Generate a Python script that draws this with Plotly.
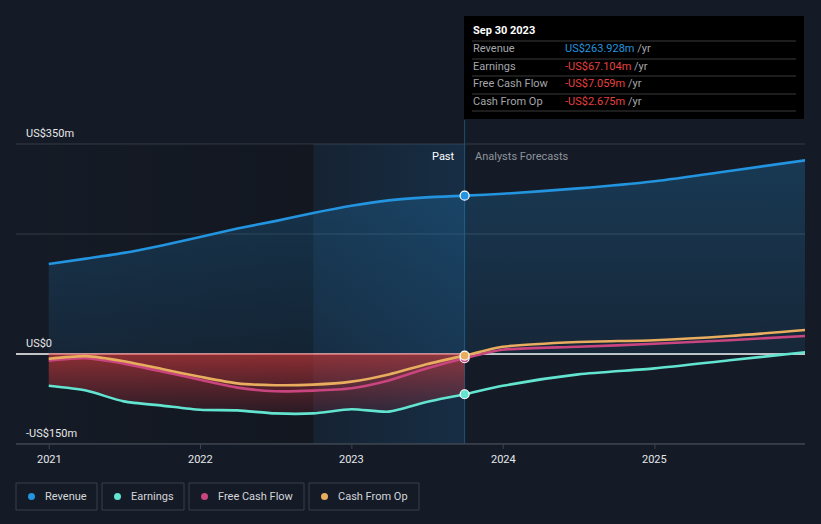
import plotly.graph_objects as go

# ---------------- data (US$ m) ----------------
past_dates = ["2020-12-31", "2021-03-31", "2021-06-30", "2021-09-30", "2021-12-31",
              "2022-03-31", "2022-06-30", "2022-09-30", "2022-12-31", "2023-03-31",
              "2023-06-30", "2023-09-30"]
fc_dates = ["2023-09-30", "2023-12-31", "2024-06-30", "2024-12-31", "2025-06-30", "2025-12-31"]

revenue_past = [150, 159, 168.5, 181, 195, 209, 221.5, 235, 247, 256, 261, 263.928]
revenue_fc = [263.928, 267, 276, 288, 305, 323]

earnings_past = [-53, -61, -79, -86, -93, -94, -99, -99, -92, -96, -80, -67.104]
earnings_fc = [-67.104, -53, -34, -24, -10.5, 3]

fcf_past = [-11, -7, -16, -29, -43, -56, -62, -61, -57, -44, -24, -7.059]
fcf_fc = [-7.059, 7, 12, 17, 23, 30]

cfo_past = [-8, -3.5, -12, -25, -38, -49, -52, -51, -46, -34, -17, -2.675]
cfo_fc = [-2.675, 12, 20, 23, 30, 40]

y_ticks = [350, 0, -150]
y_tick_labels = ["US$350m", "US$0", "-US$150m"]
grid_values = [350, 200, -150]
x_ticks = ["2021-01-01", "2022-01-01", "2023-01-01", "2024-01-01", "2025-01-01"]
x_tick_labels = ["2021", "2022", "2023", "2024", "2025"]

tooltip_date = "Sep 30 2023"
tooltip_rows = [("Revenue", "US$263.928m", "#2394df"),
                ("Earnings", "-US$67.104m", "#e5413f"),
                ("Free Cash Flow", "-US$7.059m", "#e5413f"),
                ("Cash From Op", "-US$2.675m", "#e5413f")]

series_names = ["Revenue", "Earnings", "Free Cash Flow", "Cash From Op"]
colors = ["#2394df", "#62e4d0", "#c8457f", "#e8ad5e"]

# ---------------- layout constants ----------------
W, H = 821, 524
PL, PR, PT, PB = 16, 805, 120, 444
X_RANGE = ["2020-10-13", "2025-12-29"]
Y_RANGE = [-150, 390]
BAND_TOP = 350
BG = "#151b26"
HL_START = "2022-09-30"
NOW = "2023-09-30"
FONT = "Roboto"

def px(x):
    return (x - PL) / (PR - PL)

def py(y):
    return (PB - y) / (PB - PT)

all_dates = past_dates + fc_dates[1:]
revenue = revenue_past + revenue_fc[1:]
earnings = earnings_past + earnings_fc[1:]
fcf = fcf_past + fcf_fc[1:]
cfo = cfo_past + cfo_fc[1:]

fig = go.Figure()
SM = 0.7

# darker past backdrop (horizontal gradient)
fig.add_trace(go.Scatter(
    x=[X_RANGE[0], HL_START, HL_START, X_RANGE[0], X_RANGE[0]],
    y=[Y_RANGE[0], Y_RANGE[0], BAND_TOP, BAND_TOP, Y_RANGE[0]],
    mode="none", fill="toself",
    fillgradient=dict(type="horizontal",
                      colorscale=[[0, "rgba(0,0,0,0)"], [1, "rgba(0,0,0,0.16)"]]),
    hoverinfo="skip", showlegend=False))

# highlight last year of past
fig.add_trace(go.Scatter(
    x=[HL_START, NOW, NOW, HL_START, HL_START],
    y=[Y_RANGE[0], Y_RANGE[0], BAND_TOP, BAND_TOP, Y_RANGE[0]],
    mode="none", fill="toself",
    fillgradient=dict(type="horizontal",
                      colorscale=[[0, "rgba(30,120,190,0.08)"], [1, "rgba(30,120,190,0.20)"]]),
    hoverinfo="skip", showlegend=False))

# revenue area
fig.add_trace(go.Scatter(
    x=all_dates, y=revenue, mode="none", fill="tozeroy", line_shape="spline",
    line=dict(smoothing=SM),
    fillgradient=dict(type="vertical", start=0, stop=330,
                      colorscale=[[0, "rgba(35,148,223,0.10)"], [1, "rgba(35,148,223,0.25)"]]),
    hoverinfo="skip", showlegend=False))

# red loss area (past)
fig.add_trace(go.Scatter(
    x=past_dates, y=[0] * len(past_dates), mode="lines",
    line=dict(color="#e06a6a", width=1.2), hoverinfo="skip", showlegend=False))
fig.add_trace(go.Scatter(
    x=past_dates, y=earnings_past, mode="none", fill="tonexty", line_shape="spline",
    line=dict(smoothing=SM),
    fillgradient=dict(type="vertical", start=-100, stop=0,
                      colorscale=[[0, "rgba(200,50,60,0.12)"], [1, "rgba(215,60,60,0.62)"]]),
    hoverinfo="skip", showlegend=False))

# forecast band between earnings and cfo
fig.add_trace(go.Scatter(
    x=fc_dates, y=cfo_fc, mode="none", line_shape="spline", line=dict(smoothing=SM),
    hoverinfo="skip", showlegend=False))
fig.add_trace(go.Scatter(
    x=fc_dates, y=earnings_fc, mode="none", fill="tonexty", line_shape="spline",
    line=dict(smoothing=SM), fillcolor="rgba(170,50,70,0.17)",
    hoverinfo="skip", showlegend=False))

# lines
for ys, c in [(earnings, colors[1]), (fcf, colors[2]), (cfo, colors[3]), (revenue, colors[0])]:
    fig.add_trace(go.Scatter(
        x=all_dates, y=ys, mode="lines", line_shape="spline",
        line=dict(color=c, width=2.6, smoothing=SM), hoverinfo="skip", showlegend=False))

# markers at "now"
for ys, c in [(earnings_past, colors[1]), (fcf_past, colors[2]), (cfo_past, colors[3]), (revenue_past, colors[0])]:
    fig.add_trace(go.Scatter(
        x=[past_dates[-1]], y=[ys[-1]], mode="markers",
        marker=dict(color=c, size=9, line=dict(color="white", width=1.2)),
        hoverinfo="skip", showlegend=False))

shapes = []
# grid lines
for g in grid_values:
    shapes.append(dict(type="line", xref="paper", yref="y", x0=0, x1=1, y0=g, y1=g,
                       line=dict(color="#353c47", width=1), layer="below"))
# zero line
shapes.append(dict(type="line", xref="paper", yref="y", x0=0, x1=1, y0=0, y1=0,
                   line=dict(color="#ffffff", width=1.3), layer="below"))
# now line
shapes.append(dict(type="line", xref="x", yref="paper", x0=NOW, x1=NOW, y0=0, y1=1,
                   line=dict(color="#1f4d70", width=1), layer="below"))
# bottom axis
shapes.append(dict(type="line", xref="paper", yref="paper", x0=0, x1=1, y0=0, y1=0,
                   line=dict(color="#3d444f", width=1.5)))
for t in x_ticks:
    shapes.append(dict(type="line", xref="x", yref="paper", x0=t, x1=t, y0=0, y1=py(449),
                       line=dict(color="#3d444f", width=1)))

annotations = []
for v, lab in zip(y_ticks, y_tick_labels):
    annotations.append(dict(xref="paper", yref="y", x=px(24), y=v, text=lab,
                            xanchor="left", yanchor="bottom", yshift=2, showarrow=False,
                            font=dict(family=FONT, size=11, color="#e6e8ea")))
for t, lab in zip(x_ticks, x_tick_labels):
    annotations.append(dict(xref="x", yref="paper", x=t, y=py(459), text=lab,
                            xanchor="center", yanchor="middle", showarrow=False,
                            font=dict(family=FONT, size=11, color="#e6e8ea")))

annotations.append(dict(xref="x", yref="paper", x=NOW, y=py(156), text="Past",
                        xanchor="right", yanchor="middle", xshift=-8, showarrow=False,
                        font=dict(family=FONT, size=11, color="#ffffff")))
annotations.append(dict(xref="x", yref="paper", x=NOW, y=py(156), text="Analysts Forecasts",
                        xanchor="left", yanchor="middle", xshift=8, showarrow=False,
                        font=dict(family=FONT, size=11, color="#8d939c")))

# tooltip box
shapes.append(dict(type="rect", xref="paper", yref="paper", x0=px(464), x1=px(804),
                   y0=py(16), y1=py(119), fillcolor="#000000", line=dict(width=0)))
for sy in [41, 59, 76, 94, 111]:
    shapes.append(dict(type="line", xref="paper", yref="paper", x0=px(472), x1=px(796),
                       y0=py(sy), y1=py(sy), line=dict(color="#3a3a3a", width=1)))
annotations.append(dict(xref="paper", yref="paper", x=px(471), y=py(31),
                        text="<b>" + tooltip_date + "</b>", xanchor="left", yanchor="middle",
                        showarrow=False, font=dict(family=FONT, size=11, color="#ffffff")))
for i, (lab, val, c) in enumerate(tooltip_rows):
    yy = py(49 + i * 17.5)
    annotations.append(dict(xref="paper", yref="paper", x=px(471), y=yy, text=lab,
                            xanchor="left", yanchor="middle", showarrow=False,
                            font=dict(family=FONT, size=11, color="#a3a6ab")))
    annotations.append(dict(xref="paper", yref="paper", x=px(563), y=yy,
                            text='<span style="color:%s">%s</span> /yr' % (c, val),
                            xanchor="left", yanchor="middle", showarrow=False,
                            font=dict(family=FONT, size=11, color="#a3a6ab")))

# legend boxes
legend_boxes = [(16, 97), (102, 184), (189, 304), (309, 419)]
for (x0, x1), name, c in zip(legend_boxes, series_names, colors):
    shapes.append(dict(type="rect", xref="paper", yref="paper", x0=px(x0), x1=px(x1),
                       y0=py(483), y1=py(510), line=dict(color="#3b414b", width=1),
                       fillcolor="rgba(0,0,0,0)"))
    shapes.append(dict(type="circle", xref="paper", yref="paper", x0=px(x0 + 12), x1=px(x0 + 19),
                       y0=py(493), y1=py(500), line=dict(width=0), fillcolor=c))
    annotations.append(dict(xref="paper", yref="paper", x=px(x0 + 27), y=py(496.5), text=name,
                            xanchor="left", yanchor="middle", showarrow=False,
                            font=dict(family=FONT, size=11, color="#d3d6da")))

fig.update_layout(
    width=W, height=H,
    margin=dict(l=PL, r=W - PR, t=PT, b=H - PB),
    paper_bgcolor=BG, plot_bgcolor=BG,
    showlegend=False, hovermode=False,
    xaxis=dict(type="date", range=X_RANGE, showgrid=False, zeroline=False,
               showticklabels=False, showline=False, fixedrange=True),
    yaxis=dict(range=Y_RANGE, showgrid=False, zeroline=False, showticklabels=False,
               showline=False, fixedrange=True),
    shapes=shapes, annotations=annotations,
    font=dict(family=FONT),
)

fig.write_html("out.html", config={"displayModeBar": False},
               post_script="document.body.style.margin='0';document.body.style.background='%s';" % BG)
